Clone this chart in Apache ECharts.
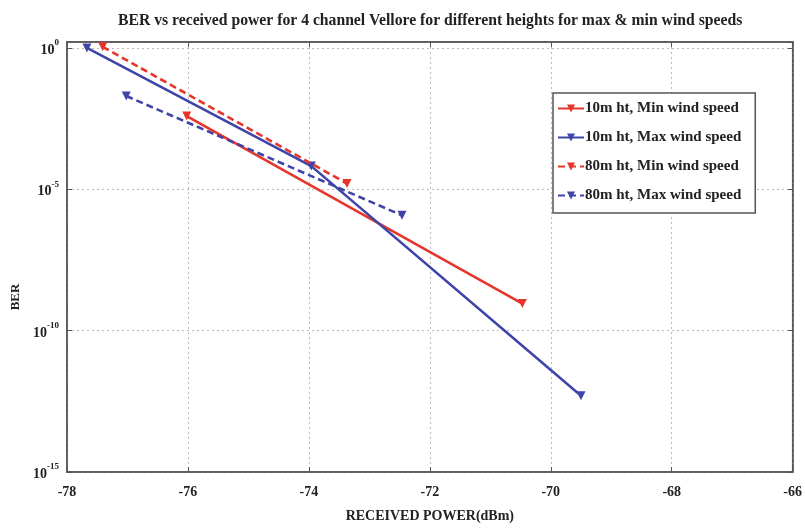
<!DOCTYPE html>
<html>
<head>
<meta charset="utf-8">
<script src="https://cdn.jsdelivr.net/npm/echarts@6/dist/echarts.min.js"></script>
<style>html,body{margin:0;padding:0;background:#fff}#c{width:805px;height:529px}</style>
</head>
<body>
<div id="c"></div>
<script>
// Data (received power in dBm, BER)
const seriesNames = ['10m ht, Min wind speed', '10m ht, Max wind speed', '80m ht, Min wind speed', '80m ht, Max wind speed'];
const power10Min = [-76.02, -70.47];
const ber10Min = [3.9e-3, 9.1e-10];
const power10Max = [-77.67, -73.96, -69.5];
const ber10Max = [1.0, 6.6e-5, 5.0e-13];
const power80Min = [-77.41, -73.37];
const ber80Min = [1.1, 1.6e-5];
const power80Max = [-77.02, -72.46];
const ber80Max = [2.0e-2, 1.2e-6];
const xTicks = [-78, -76, -74, -72, -70, -68, -66];
const yExpTicks = [-15, -10, -5, 0];

const RED = '#e5362c', BLUE = '#3f45a8';
const FONT = 'Liberation Serif';

function pts(xs, ys) { return xs.map((x, i) => [x, Math.log10(ys[i])]); }
function mk(name, xs, ys, color, dashed) {
  return {
    name: name, type: 'line', data: pts(xs, ys),
    symbol: 'triangle', symbolRotate: 180, symbolSize: 9,
    itemStyle: { color: color },
    lineStyle: { color: color, width: 2.6, type: dashed ? [7, 4] : 'solid' },
    z: dashed ? 3 : 2
  };
}

const xMin = xTicks[0], xMax = xTicks[xTicks.length - 1];
const yMin = yExpTicks[0], yMax = 0.21;
const tickStyle = { inside: true, length: 5, lineStyle: { color: '#555' } };

const chart = echarts.init(document.getElementById('c'), null, { renderer: 'canvas' });
chart.setOption({
  animation: false,
  backgroundColor: '#fff',
  title: {
    text: 'BER vs received power for 4 channel Vellore for different heights for max & min wind speeds',
    left: 113, top: 8,
    textStyle: { fontFamily: FONT, fontWeight: 'bold', fontSize: 15.7, color: '#222' }
  },
  grid: { left: 67, right: 10, top: 42, bottom: 57, show: true, borderColor: '#555', borderWidth: 1.5, backgroundColor: '#fff' },
  legend: {
    orient: 'vertical', left: 553, top: 93,
    backgroundColor: '#fff', borderColor: '#555', borderWidth: 1.5,
    padding: [8, 14, 10, 4], itemGap: 14, itemWidth: 26, itemHeight: 10,
    textStyle: { fontFamily: FONT, fontWeight: 'bold', fontSize: 15, color: '#222', padding: [0, 0, 0, -4] },
    data: seriesNames
  },
  xAxis: [{
    type: 'value', min: xMin, max: xMax, interval: 2,
    name: 'RECEIVED POWER(dBm)', nameLocation: 'middle', nameGap: 37,
    nameTextStyle: { fontFamily: FONT, fontWeight: 'bold', fontSize: 14, color: '#222' },
    axisLine: { onZero: false, lineStyle: { color: '#555', width: 1.5 } },
    axisTick: tickStyle,
    axisLabel: { fontFamily: FONT, fontWeight: 'bold', fontSize: 14, color: '#222', margin: 13 },
    splitLine: { show: true, lineStyle: { color: '#bbb', type: [2, 3], width: 1 } }
  }, {
    type: 'value', position: 'top', min: xMin, max: xMax, interval: 2,
    axisLine: { onZero: false, lineStyle: { color: '#555', width: 1.5 } },
    axisTick: tickStyle, axisLabel: { show: false }, splitLine: { show: false }
  }],
  yAxis: [{
    type: 'value', min: yMin, max: yMax, interval: 5,
    name: 'BER', nameLocation: 'middle', nameGap: 45, nameRotate: 90,
    nameTextStyle: { fontFamily: FONT, fontWeight: 'bold', fontSize: 13, color: '#222', padding: [0, 0, 0, -80] },
    axisLine: { onZero: false, lineStyle: { color: '#555', width: 1.5 } },
    axisTick: tickStyle,
    axisLabel: {
      showMaxLabel: false, margin: 8,
      formatter: function (v) { return yExpTicks.indexOf(v) >= 0 ? '{b|10}{s|' + v + '}' : ''; },
      rich: {
        b: { fontFamily: FONT, fontWeight: 'bold', fontSize: 14, color: '#222', verticalAlign: 'bottom' },
        s: { fontFamily: FONT, fontWeight: 'bold', fontSize: 9, color: '#222', verticalAlign: 'top', padding: [0, 0, 10, 0] }
      }
    },
    splitLine: { show: true, lineStyle: { color: '#bbb', type: [2, 3], width: 1 } }
  }, {
    type: 'value', position: 'right', min: yMin, max: yMax, interval: 5,
    axisLine: { onZero: false, lineStyle: { color: '#555', width: 1.5 } },
    axisTick: tickStyle, axisLabel: { show: false }, splitLine: { show: false }
  }],
  series: [
    mk(seriesNames[0], power10Min, ber10Min, RED, false),
    mk(seriesNames[1], power10Max, ber10Max, BLUE, false),
    mk(seriesNames[2], power80Min, ber80Min, RED, true),
    mk(seriesNames[3], power80Max, ber80Max, BLUE, true)
  ]
});
</script>
</body>
</html>
